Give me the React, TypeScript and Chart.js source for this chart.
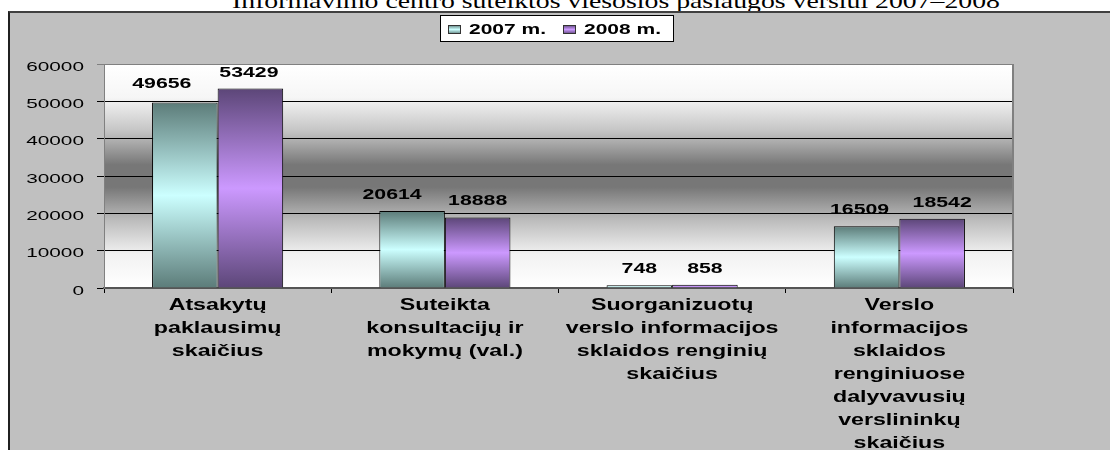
import React, { useEffect, useRef } from "react";
import { Chart, registerables } from "chart.js";

Chart.register(...registerables);

const TITLE = "Informavimo centro suteiktos viešosios paslaugos verslui 2007–2008";
const CATEGORIES: string[][] = [
  ["Atsakytų", "paklausimų", "skaičius"],
  ["Suteikta", "konsultacijų ir", "mokymų (val.)"],
  ["Suorganizuotų", "verslo informacijos", "sklaidos renginių", "skaičius"],
  ["Verslo", "informacijos", "sklaidos", "renginiuose", "dalyvavusių", "verslininkų", "skaičius"],
];
const SERIES_NAMES = ["2007 m.", "2008 m."];
const VALUES_2007 = [49656, 20614, 748, 16509];
const VALUES_2008 = [53429, 18888, 858, 18542];
const Y_MIN = 0;
const Y_MAX = 60000;
const Y_STEP = 10000;

const BAR_COLORS = [
  { dark: "#5c7c79", light: "#ccffff" },
  { dark: "#5c4678", light: "#cc99ff" },
];

// manual nudges of the value labels, as placed in the original (pixels)
const LABEL_NUDGE_X = [
  [-23, -20, 0, -7],
  [-1.5, 0, 0, 10],
];
const LABEL_NUDGE_Y = [
  [-3, 0, 0, 0],
  [0, 0, 0, 0],
];

const FONT = '"Liberation Sans", Arial, sans-serif';

function drawStretched(
  ctx: CanvasRenderingContext2D,
  text: string,
  x: number,
  y: number,
  font: string,
  sx: number,
  align: "left" | "center" | "right"
) {
  ctx.save();
  ctx.font = font;
  ctx.textAlign = "left";
  ctx.textBaseline = "alphabetic";
  ctx.fillStyle = "#000";
  const w = ctx.measureText(text).width * sx;
  const left = align === "center" ? x - w / 2 : align === "right" ? x - w : x;
  ctx.translate(left, y);
  ctx.scale(sx, 1);
  ctx.fillText(text, 0, 0);
  ctx.restore();
}

function barGradient(c: CanvasRenderingContext2D, top: number, bottom: number, idx: number) {
  const col = BAR_COLORS[idx];
  if (!isFinite(top) || !isFinite(bottom) || Math.abs(bottom - top) < 0.5) return col.dark;
  const g = c.createLinearGradient(0, top, 0, bottom);
  g.addColorStop(0, col.dark);
  g.addColorStop(0.5, col.light);
  g.addColorStop(1, col.dark);
  return g;
}

const decorPlugin = {
  id: "decor",
  beforeDraw(chart: any) {
    const { ctx, chartArea: a } = chart;
    if (!a) return;
    ctx.save();
    const g = ctx.createLinearGradient(0, a.top, 0, a.bottom);
    g.addColorStop(0, "#ffffff");
    g.addColorStop(0.15, "#f6f6f6");
    g.addColorStop(0.3, "#c4c4c4");
    g.addColorStop(0.45, "#777777");
    g.addColorStop(0.55, "#777777");
    g.addColorStop(0.7, "#bdbdbd");
    g.addColorStop(0.85, "#f2f2f2");
    g.addColorStop(1, "#ffffff");
    ctx.fillStyle = g;
    ctx.fillRect(a.left, a.top, a.right - a.left, a.bottom - a.top);
    ctx.restore();
  },
  afterDatasetsDraw(chart: any) {
    const { ctx, chartArea: a } = chart;
    ctx.save();
    ctx.strokeStyle = "#808080";
    ctx.lineWidth = 2;
    ctx.beginPath();
    ctx.moveTo(a.right, a.top);
    ctx.lineTo(a.right, a.bottom);
    ctx.stroke();
    ctx.restore();

    chart.data.datasets.forEach((ds: any, di: number) => {
      const meta = chart.getDatasetMeta(di);
      meta.data.forEach((el: any, i: number) => {
        drawStretched(
          ctx,
          String(ds.data[i]),
          el.x + LABEL_NUDGE_X[di][i],
          el.y - 12 + LABEL_NUDGE_Y[di][i],
          `bold 14px ${FONT}`,
          1.52,
          "center"
        );
      });
    });
  },
  afterDraw(chart: any) {
    const { ctx } = chart;
    const ys = chart.scales.y;
    ys.ticks.forEach((t: any, i: number) => {
      const py = ys.getPixelForTick(i);
      drawStretched(ctx, String(t.value), 84, py + 6.5, `13px ${FONT}`, 1.6, "right");
    });
    const xs = chart.scales.x;
    CATEGORIES.forEach((lines, i) => {
      const px = xs.getPixelForValue(i);
      lines.forEach((ln, k) => {
        drawStretched(ctx, ln, px, 310 + k * 23, `bold 16px ${FONT}`, 1.45, "center");
      });
    });

    ctx.save();
    ctx.fillStyle = "#ffffff";
    ctx.fillRect(440.5, 15.5, 233, 26);
    ctx.strokeStyle = "#000";
    ctx.lineWidth = 1;
    ctx.strokeRect(440.5, 15.5, 233, 26);
    const itemX = [448, 563];
    chart.data.datasets.forEach((ds: any, di: number) => {
      const ix = itemX[di];
      ctx.fillStyle = barGradient(ctx, 25, 34, di);
      ctx.fillRect(ix + 0.5, 25.5, 12, 8);
      ctx.strokeStyle = "#333";
      ctx.strokeRect(ix + 0.5, 25.5, 12, 8);
      drawStretched(ctx, ds.label, ix + 21, 34, `bold 15px ${FONT}`, 1.4, "left");
    });
    ctx.restore();
  },
};

export default function App() {
  const ref = useRef<HTMLCanvasElement | null>(null);

  useEffect(() => {
    document.body.style.margin = "0";
    const canvas = ref.current!;
    const makeBg = (idx: number) => (c: any) => {
      const chart = c.chart;
      if (!chart.chartArea || c.raw == null) return BAR_COLORS[idx].dark;
      const y = chart.scales.y;
      return barGradient(chart.ctx, y.getPixelForValue(c.raw), y.getPixelForValue(0), idx);
    };
    const chart = new Chart(canvas, {
      type: "bar",
      data: {
        labels: CATEGORIES.map((l) => l.join(" ")),
        datasets: [
          {
            label: SERIES_NAMES[0],
            data: VALUES_2007,
            backgroundColor: makeBg(0),
            borderColor: "#000",
            borderWidth: 1,
            categoryPercentage: 0.577,
            barPercentage: 1,
          },
          {
            label: SERIES_NAMES[1],
            data: VALUES_2008,
            backgroundColor: makeBg(1),
            borderColor: "#000",
            borderWidth: 1,
            categoryPercentage: 0.577,
            barPercentage: 1,
          },
        ],
      },
      options: {
        responsive: false,
        animation: false,
        devicePixelRatio: 1,
        layout: { padding: { top: 64, right: 97, left: 0, bottom: 0 } },
        plugins: { legend: { display: false }, tooltip: { enabled: false }, title: { display: false } },
        scales: {
          x: {
            ticks: { display: false },
            grid: { display: true, drawOnChartArea: false, drawTicks: true, tickLength: 5, color: "#000", offset: true },
            border: { display: true, color: "#555", width: 2 },
            afterFit: (s: any) => {
              s.height = 162;
            },
          },
          y: {
            min: Y_MIN,
            max: Y_MAX,
            ticks: { display: false, stepSize: Y_STEP },
            grid: {
              color: (c: any) => (c.tick && c.tick.value === Y_MAX ? "#808080" : "#000"),
              lineWidth: 1,
              drawTicks: true,
              tickLength: 7,
            },
            border: { display: true, color: "#808080", width: 1 },
            afterFit: (s: any) => {
              s.width = 104;
            },
          },
        },
      },
      plugins: [decorPlugin],
    } as any);
    return () => chart.destroy();
  }, []);

  return (
    <div style={{ position: "relative", width: 1110, height: 450, overflow: "hidden", background: "#fff" }}>
      <svg width={1110} height={11} style={{ position: "absolute", left: 0, top: 0 }}>
        <text
          x={232}
          y={7.5}
          fontSize={22}
          fontFamily='"Liberation Serif", "Times New Roman", serif'
          textLength={768}
          lengthAdjust="spacingAndGlyphs"
          fill="#000"
        >
          {TITLE}
        </text>
      </svg>
      <div
        style={{
          position: "absolute",
          left: 8,
          top: 11,
          width: 1200,
          height: 500,
          background: "#c0c0c0",
          borderTop: "2px solid #404040",
          borderLeft: "2px solid #202020",
        }}
      />
      <canvas ref={ref} width={1110} height={450} style={{ position: "absolute", left: 0, top: 0 }} />
    </div>
  );
}
